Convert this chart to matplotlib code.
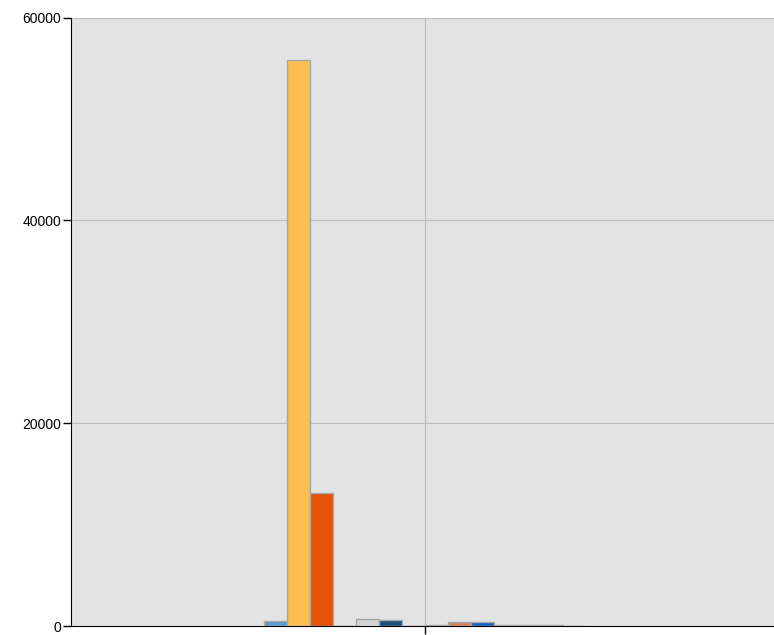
import matplotlib
matplotlib.use("Agg")
import matplotlib.pyplot as plt

# --- data (one category, 14 series) ---
series_values = [470, 55800, 13100, 0, 680, 640, 0, 60, 380, 440, 60, 60, 60, 0]
series_colors = ["#5B9BD5", "#FDBF4F", "#E35205", "#C8C8C8", "#D3D3D3", "#1F4E79",
                 "#C8C8C8", "#A9A9A9", "#D2835F", "#1565C0", "#A9A9A9", "#A9A9A9",
                 "#A9A9A9", "#C8C8C8"]
y_ticks = [0, 20000, 40000, 60000]

plt.rcParams["font.family"] = ["Liberation Sans", "DejaVu Sans"]

W, H = 774, 635
fig = plt.figure(figsize=(W / 100, H / 100), dpi=100)
left_px, center_px = 71, 425
ax = fig.add_axes([left_px / W, 9 / H, 2 * (center_px - left_px) / W, 608.5 / H])
ax.set_facecolor("#E3E3E3")

n = len(series_values)
bar_w = 1.0
for i, (v, c) in enumerate(zip(series_values, series_colors)):
    x = (i - (n - 1) / 2) * bar_w
    ax.bar(x, v, width=bar_w, color=c, edgecolor="#A6A6A6", linewidth=1.0, zorder=3)

half = (center_px - left_px) / 23
ax.set_xlim(-half, half)
ax.set_ylim(0, 60000)
ax.set_yticks(y_ticks)
ax.set_yticklabels([str(t) for t in y_ticks], fontsize=10)
ax.set_xticks([0])
ax.set_xticklabels([""])
ax.grid(True, color="#BDBDBD", linewidth=0.8, zorder=0)
ax.set_axisbelow(True)

for side in ["top", "right"]:
    ax.spines[side].set_visible(False)
ax.spines["left"].set_color("black")
ax.spines["bottom"].set_color("black")
ax.tick_params(axis="y", length=6, width=1, pad=1)
ax.tick_params(axis="x", length=6, width=1)

fig.savefig("out.png", dpi=100)
